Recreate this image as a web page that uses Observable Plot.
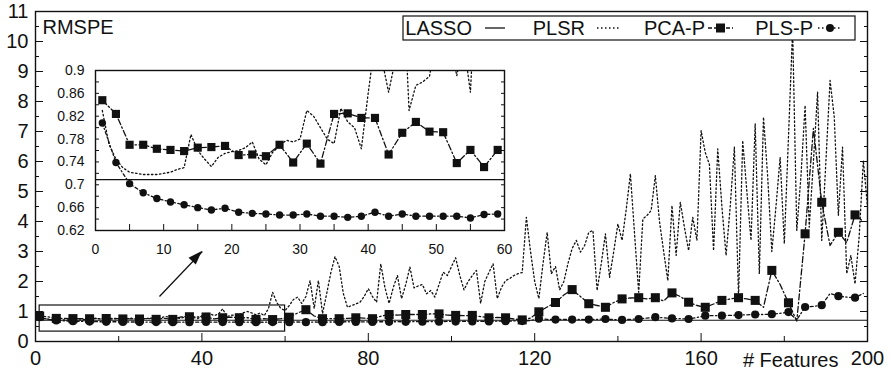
<!DOCTYPE html>
<html><head><meta charset="utf-8">
<script src="https://cdn.jsdelivr.net/npm/d3@7"></script>
<script src="https://cdn.jsdelivr.net/npm/@observablehq/plot@0.6"></script>
<style>
html,body{margin:0;padding:0;background:#fff;}
#chart{position:relative;width:892px;height:370px;font-family:"Liberation Sans",Arial,Helvetica,sans-serif;}
#chart svg{position:absolute;overflow:visible;background:transparent;}
</style></head><body><div id="chart"></div>
<script>
// ---------- data ----------
const seriesNames = ["LASSO", "PLSR", "PCA-P", "PLS-P"];
const lassoValue = 0.709;
// PLSR: one value per feature count 1..200
const plsrValues = [
  0.83,0.77,0.745,0.73,0.722,0.72,0.718,0.718,0.718,0.72,
  0.722,0.727,0.73,0.788,0.76,0.745,0.732,0.748,0.755,0.758,
  0.76,0.765,0.775,0.745,0.735,0.757,0.768,0.778,0.775,0.78,
  0.83,0.82,0.80,0.78,0.772,0.834,0.81,0.80,0.763,0.86,
  0.95,0.92,0.862,0.92,1.09,0.83,0.874,0.88,0.89,0.96,
  1.0,0.95,0.891,0.95,0.862,1.1,1.64,1.3,1.1,1.03,
  1.2,1.4,1.48,1.27,1.5,2.03,1.1,2.03,0.93,1.6,
  2.3,2.83,2.5,1.6,1.14,1.2,1.25,1.31,1.5,1.76,
  1.5,1.31,2.59,1.8,1.27,1.8,2.2,1.43,1.9,2.48,
  1.79,1.85,1.9,1.59,1.7,1.48,1.9,2.31,2.2,2.5,
  2.79,2.2,1.72,2.0,2.2,2.37,1.27,2.0,2.3,2.59,
  1.43,1.8,2.03,2.1,2.2,2.26,2.3,4.14,3.0,2.0,
  1.43,2.6,3.64,2.26,2.5,1.72,2.0,2.6,3.1,3.37,
  2.98,3.2,3.64,3.7,1.7,2.6,3.59,2.14,3.0,3.92,
  3.37,4.4,5.59,3.6,1.64,4.09,4.2,4.37,5.53,4.0,
  3.0,2.03,4.53,2.87,4.64,3.8,3.03,4.14,3.37,7.03,
  6.3,5.9,3.03,6.42,4.5,2.87,4.5,6.48,1.48,6.7,
  5.0,3.37,7.26,2.26,7.48,5.5,3.0,4.5,6.14,3.26,
  6.8,10.4,3.7,5.5,7.87,3.81,6.0,8.31,3.37,6.0,
  8.7,7.5,4.2,6.48,2.26,2.87,1.92,3.5,6.03,4.5
];
// PCA-P and PLS-P: one value per odd feature count 1,3,...,199
const pcaPValues = [
  0.848,0.824,0.770,0.770,0.763,0.761,0.759,0.765,0.766,0.768,
  0.752,0.753,0.750,0.770,0.739,0.772,0.737,0.824,0.825,0.817,
  0.817,0.753,0.791,0.810,0.793,0.792,0.738,0.761,0.731,0.761,
  0.81,0.95,1.06,0.85,0.76,0.76,0.76,0.77,0.79,0.78,
  0.76,0.84,0.90,0.88,0.90,0.90,0.90,0.92,0.92,0.88,
  0.87,0.86,0.87,0.83,0.79,0.80,0.79,0.75,0.72,0.78,
  0.99,1.15,1.30,1.55,1.73,1.50,1.26,1.20,1.14,1.30,
  1.42,1.45,1.46,1.42,1.46,1.35,1.62,1.50,1.31,1.20,
  1.14,1.25,1.37,1.42,1.46,1.42,1.37,1.14,2.37,1.90,
  1.29,0.68,3.59,7.10,4.64,3.20,3.64,3.30,4.22,4.00
];
const plsPValues = [
  0.808,0.739,0.702,0.686,0.676,0.670,0.665,0.660,0.656,0.659,
  0.652,0.650,0.649,0.647,0.647,0.649,0.645,0.645,0.643,0.645,
  0.652,0.645,0.649,0.645,0.645,0.645,0.645,0.642,0.648,0.649,
  0.645,0.65,0.645,0.65,0.645,0.65,0.65,0.66,0.65,0.655,
  0.65,0.66,0.655,0.66,0.655,0.66,0.66,0.665,0.66,0.67,
  0.665,0.67,0.67,0.675,0.67,0.68,0.675,0.685,0.68,0.70,
  0.76,0.74,0.73,0.735,0.73,0.735,0.73,0.74,0.75,0.73,
  0.72,0.74,0.75,0.78,0.81,0.79,0.77,0.76,0.75,0.80,
  0.86,0.86,0.86,0.87,0.88,0.89,0.90,0.90,0.91,0.94,
  0.98,0.72,1.15,1.17,1.21,1.60,1.51,1.48,1.46,1.60
];
const mainXTicks = [0, 40, 80, 120, 160, 200];
const mainXMinor = [20, 60, 100, 140, 180];
const mainYTicks = [0, 1, 2, 3, 4, 5, 6, 7, 8, 9, 10, 11];
const insetXTicks = [0, 10, 20, 30, 40, 50, 60];
const insetYTicks = [0.62, 0.66, 0.7, 0.74, 0.78, 0.82, 0.86, 0.9];
const zoomBox = [{x1: 1, x2: 60, y1: 0.33, y2: 1.2}];
const arrowLink = [{x1: 29.8, y1: 1.5, x2: 40.1, y2: 3.0}];

// ---------- tables ----------
const plsr = plsrValues.map((v, i) => ({x: i + 1, y: v}));
const odd = pcaPValues.map((v, i) => ({x: 2 * i + 1, pca: v, pls: plsPValues[i]}));
const mainMarkers = odd.filter((d, i) => i % 2 === 0);
const insetOdd = odd.filter(d => d.x <= 60);
const insetPlsr = plsr.filter(d => d.x <= 61);

const ink = "#111";
const FONT = '"Liberation Sans", Arial, Helvetica, sans-serif';
const FS = 20;
const dashPLSR = "1.5,2.5";
const dashPCA = "6,2.5,1.5,2.5";
const dashPLS = "3,2.5,1.2,2.5";
const LW = 1.3;
const blank = () => "";

const yMinorMain = mainYTicks.slice(0, -1).map(v => v + 0.5);

const main = Plot.plot({
  width: 892, height: 370,
  marginLeft: 35, marginRight: 25, marginTop: 11, marginBottom: 29,
  style: {fontFamily: FONT, color: ink, background: "transparent"},
  x: {domain: [0, 200]},
  y: {domain: [0, 11]},
  marks: [
    Plot.ruleY([lassoValue], {stroke: ink, strokeWidth: 1.2}),
    Plot.line(plsr, {x: "x", y: "y", stroke: ink, strokeWidth: LW, strokeDasharray: dashPLSR}),
    Plot.line(odd, {x: "x", y: "pca", stroke: ink, strokeWidth: LW, strokeDasharray: dashPCA}),
    Plot.line(odd, {x: "x", y: "pls", stroke: ink, strokeWidth: LW, strokeDasharray: dashPLS}),
    Plot.dot(mainMarkers, {x: "x", y: "pca", symbol: "square", r: 5.1, fill: ink, stroke: null}),
    Plot.dot(mainMarkers, {x: "x", y: "pls", symbol: "circle", r: 4.1, fill: ink, stroke: null}),
    Plot.rect(zoomBox, {x1: "x1", x2: "x2", y1: "y1", y2: "y2", fill: "none", stroke: ink, strokeWidth: 1.2}),
    Plot.link(arrowLink, {x1: "x1", y1: "y1", x2: "x2", y2: "y2", stroke: ink, strokeWidth: 1.3}),
    Plot.frame({stroke: ink, strokeWidth: 1.4}),
    Plot.axisY({ticks: mainYTicks, anchor: "left", tickSize: -8, tickFormat: blank, label: null}),
    Plot.axisY({ticks: yMinorMain, anchor: "left", tickSize: -4, tickFormat: blank, label: null}),
    Plot.axisY({ticks: mainYTicks, anchor: "right", tickSize: -8, tickFormat: blank, label: null}),
    Plot.axisY({ticks: yMinorMain, anchor: "right", tickSize: -4, tickFormat: blank, label: null}),
    Plot.axisY({ticks: mainYTicks, anchor: "left", tickSize: 0, tickPadding: 7, fontSize: FS, label: null, tickFormat: d => String(d)}),
    Plot.axisX({ticks: mainXTicks.slice(1, -1), anchor: "bottom", tickSize: -8, tickFormat: blank, label: null}),
    Plot.axisX({ticks: mainXMinor, anchor: "bottom", tickSize: -5, tickFormat: blank, label: null}),
    Plot.axisX({ticks: mainXTicks, anchor: "bottom", tickSize: 0, tickPadding: 9, fontSize: FS, label: null, tickFormat: d => String(d)}),
    Plot.text(["RMSPE"], {frameAnchor: "top-left", dx: 7, dy: 16, textAnchor: "start", lineAnchor: "middle", fontSize: FS, fill: ink}),
    Plot.text(["# Features"], {frameAnchor: "bottom-right", dx: -29, dy: 19, textAnchor: "end", lineAnchor: "middle", fontSize: FS, fill: ink})
  ]
});

// arrow head (filled), placed via the plot's scales
{
  const sx = main.scale("x"), sy = main.scale("y");
  const a = arrowLink[0];
  const tx = sx.apply(a.x2), ty = sy.apply(a.y2);
  const fx = sx.apply(a.x1), fy = sy.apply(a.y1);
  const L = Math.hypot(tx - fx, ty - fy), ux = (tx - fx) / L, uy = (ty - fy) / L;
  const hl = 14, hw = 5;
  const bx = tx - ux * hl, by = ty - uy * hl;
  const pts = [[tx, ty], [bx - uy * hw, by + ux * hw], [bx + uy * hw, by - ux * hw]];
  d3.select(main).append("polygon").attr("points", pts.map(p => p.join(",")).join(" ")).attr("fill", ink);
}

// legend box (layout in pixels)
{
  const g = d3.select(main).append("g").attr("font-family", FONT).attr("font-size", FS).attr("fill", ink);
  g.append("rect").attr("x", 403).attr("y", 16).attr("width", 452).attr("height", 24)
    .attr("fill", "white").attr("stroke", ink).attr("stroke-width", 1.2);
  const items = [
    {name: seriesNames[0], textEnd: 472, s0: 485, s1: 505, dash: null, marker: null},
    {name: seriesNames[1], textEnd: 585, s0: 597, s1: 619, dash: dashPLSR, marker: null},
    {name: seriesNames[2], textEnd: 705, s0: 708, s1: 733, dash: "4,2", marker: "square"},
    {name: seriesNames[3], textEnd: 813, s0: 818, s1: 842, dash: "1.5,2.5", marker: "circle"}
  ];
  const cy = 28;
  for (const it of items) {
    g.append("text").attr("x", it.textEnd).attr("y", cy).attr("dy", "0.36em").attr("text-anchor", "end").text(it.name);
    const ln = g.append("line").attr("x1", it.s0).attr("x2", it.s1).attr("y1", cy).attr("y2", cy)
      .attr("stroke", ink).attr("stroke-width", LW);
    if (it.dash) ln.attr("stroke-dasharray", it.dash);
    const mx = (it.s0 + it.s1) / 2;
    if (it.marker === "square") g.append("rect").attr("x", mx - 4.5).attr("y", cy - 4.5).attr("width", 9).attr("height", 9).attr("fill", ink);
    if (it.marker === "circle") g.append("circle").attr("cx", mx).attr("cy", cy).attr("r", 4).attr("fill", ink);
  }
}

const yMinorInset = insetYTicks.slice(0, -1).map(v => +(v + 0.02).toFixed(2));
const xMinorInset = insetXTicks.slice(0, -1).map(v => v + 5);

const inset = Plot.plot({
  width: 469, height: 202,
  marginLeft: 50, marginRight: 10, marginTop: 10, marginBottom: 32,
  style: {fontFamily: FONT, color: ink, background: "transparent"},
  x: {domain: [0, 60]},
  y: {domain: [0.62, 0.9]},
  marks: [
    Plot.frame({fill: "white", stroke: null}),
    Plot.ruleY([lassoValue], {stroke: ink, strokeWidth: 1.2}),
    Plot.line(insetPlsr, {x: "x", y: "y", stroke: ink, strokeWidth: LW, strokeDasharray: dashPLSR, clip: true}),
    Plot.line(insetOdd, {x: "x", y: "pca", stroke: ink, strokeWidth: LW, strokeDasharray: dashPCA, clip: true}),
    Plot.line(insetOdd, {x: "x", y: "pls", stroke: ink, strokeWidth: LW, strokeDasharray: dashPLS, clip: true}),
    Plot.dot(insetOdd, {x: "x", y: "pca", symbol: "square", r: 4.6, fill: ink, stroke: null}),
    Plot.dot(insetOdd, {x: "x", y: "pls", symbol: "circle", r: 3.7, fill: ink, stroke: null}),
    Plot.frame({stroke: ink, strokeWidth: 1.4}),
    Plot.axisY({ticks: insetYTicks, anchor: "left", tickSize: -4, tickFormat: blank, label: null}),
    Plot.axisY({ticks: yMinorInset, anchor: "left", tickSize: -4, tickFormat: blank, label: null}),
    Plot.axisY({ticks: insetYTicks, anchor: "right", tickSize: -4, tickFormat: blank, label: null}),
    Plot.axisY({ticks: yMinorInset, anchor: "right", tickSize: -4, tickFormat: blank, label: null}),
    Plot.axisY({ticks: insetYTicks, anchor: "left", tickSize: 0, tickPadding: 11, fontSize: 14, label: null, tickFormat: d => String(d)}),
    Plot.axisX({ticks: insetXTicks.slice(1, -1), anchor: "bottom", tickSize: -6, tickFormat: blank, label: null}),
    Plot.axisX({ticks: xMinorInset, anchor: "bottom", tickSize: -6, tickFormat: blank, label: null}),
    Plot.axisX({ticks: insetXTicks, anchor: "bottom", tickSize: 0, tickPadding: 14, fontSize: 14, label: null, tickFormat: d => String(d)})
  ]
});

const chart = document.getElementById("chart");
main.style.left = "0px"; main.style.top = "0px";
inset.style.left = "45px"; inset.style.top = "60px";
chart.appendChild(main);
chart.appendChild(inset);
</script></body></html>
